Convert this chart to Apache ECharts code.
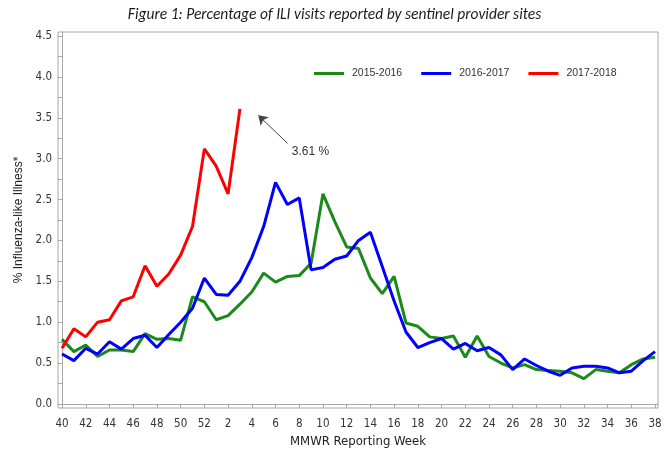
<!DOCTYPE html>
<html>
<head>
<meta charset="utf-8">
<script src="https://cdn.jsdelivr.net/npm/echarts@6/dist/echarts.min.js"></script>
<style>
  html, body { margin: 0; padding: 0; background: #fff; }
  #grafico { width: 669px; height: 454px; }
</style>
</head>
<body>
<div id="grafico"></div>
<script>
// MMWR weeks 40 .. 52, then 1 .. 38
const semanas = [40, 41, 42, 43, 44, 45, 46, 47, 48, 49, 50, 51, 52,
  1, 2, 3, 4, 5, 6, 7, 8, 9, 10, 11, 12, 13, 14, 15, 16, 17, 18, 19, 20,
  21, 22, 23, 24, 25, 26, 27, 28, 29, 30, 31, 32, 33, 34, 35, 36, 37, 38];

const temporadas = ["2015-2016", "2016-2017", "2017-2018"];

const ili2015 = [0.79, 0.64, 0.72, 0.58, 0.66, 0.66, 0.64, 0.86, 0.79, 0.80, 0.78,
  1.31, 1.25, 1.03, 1.08, 1.22, 1.37, 1.60, 1.49, 1.56, 1.57, 1.72,
  2.57, 2.23, 1.92, 1.90, 1.54, 1.35, 1.56,
  0.99, 0.95, 0.82, 0.80, 0.83, 0.57, 0.83, 0.58, 0.50, 0.44, 0.48, 0.42,
  0.41, 0.40, 0.38, 0.31, 0.42, 0.40, 0.38, 0.48, 0.55, 0.57];

const ili2016 = [0.61, 0.53, 0.68, 0.61, 0.76, 0.67, 0.80, 0.84, 0.69, 0.85, 1.00,
  1.17, 1.54, 1.34, 1.33, 1.50, 1.79, 2.17, 2.71, 2.44, 2.52, 1.64,
  1.67, 1.77, 1.81, 2.00, 2.10, 1.68, 1.26,
  0.88, 0.69, 0.75, 0.80, 0.67, 0.74, 0.65, 0.69, 0.60, 0.42, 0.55, 0.47,
  0.40, 0.35, 0.44, 0.46, 0.46, 0.44, 0.38, 0.40, 0.53, 0.64];

const ili2017 = [0.68, 0.92, 0.82, 1.00, 1.03, 1.26, 1.31, 1.69, 1.44, 1.59, 1.82,
  2.17, 3.12, 2.91, 2.57, 3.61];

const ticksX = [0, 2, 4, 6, 8, 10, 12, 14, 16, 18, 20, 22, 24, 26, 28, 30, 32,
  34, 36, 38, 40, 42, 44, 46, 48, 50];
const ticksY = [0, 0.5, 1, 1.5, 2, 2.5, 3, 3.5, 4, 4.5];
const ticksYmenores = [0.25, 0.75, 1.25, 1.75, 2.25, 2.75, 3.25, 3.75, 4.25];

const colores = ["#1b8a1b", "#0000ff", "#ff0000"];

function pares(valores) {
  return valores.map((v, i) => [i, v]);
}

const ultimo = ili2017.length - 1;
const pico = ili2017[ultimo];

const fuente = "'Liberation Sans Narrow', 'DejaVu Sans Condensed', 'Liberation Sans', sans-serif";
const gris = "#a8a8a8";

const grafico = echarts.init(document.getElementById("grafico"), null, { renderer: "canvas" });

const opciones = {
  animation: false,
  title: {
    text: "Figure 1: Percentage of ILI visits reported by sentinel provider sites",
    left: "center",
    top: 2,
    textStyle: {
      fontFamily: "Carlito, Lato, sans-serif",
      fontStyle: "italic",
      fontWeight: "normal",
      fontSize: 15.5,
      color: "#1a1a1a"
    }
  },
  legend: {
    data: temporadas.map(t => ({ name: t, icon: "rect" })),
    left: 309,
    top: 63,
    itemWidth: 30,
    itemHeight: 3,
    itemGap: 19,
    textStyle: {
      fontFamily: "'Liberation Sans', Arial, sans-serif",
      fontSize: 10.5,
      color: "#333",
      padding: [0, 0, 0, 3]
    }
  },
  grid: {
    left: 58,
    right: 11,
    top: 32,
    bottom: 46,
    show: true,
    borderColor: gris,
    borderWidth: 1
  },
  xAxis: {
    type: "value",
    min: -0.34,
    max: 50.25,
    name: "MMWR Reporting Week",
    nameLocation: "middle",
    nameGap: 26,
    nameTextStyle: { fontFamily: fuente, fontSize: 13, color: "#222" },
    axisLine: { show: true, lineStyle: { color: gris } },
    axisTick: { show: true, length: 4, lineStyle: { color: gris }, customValues: ticksX },
    axisLabel: {
      margin: 10,
      fontFamily: fuente,
      fontSize: 11.5,
      color: "#333",
      customValues: ticksX,
      formatter: v => String(semanas[Math.round(v)])
    },
    splitLine: { show: false }
  },
  yAxis: {
    type: "value",
    min: -0.05,
    max: 4.55,
    name: "% Influenza-like Illness*",
    nameLocation: "middle",
    nameGap: 33,
    nameTextStyle: { fontFamily: "'Liberation Sans', Arial, sans-serif", fontSize: 12, color: "#222" },
    axisLine: { show: true, lineStyle: { color: gris } },
    axisTick: { show: true, length: 4, lineStyle: { color: gris },
      customValues: ticksY.concat(ticksYmenores) },
    axisLabel: {
      margin: 6,
      fontFamily: fuente,
      fontSize: 11.5,
      color: "#333",
      customValues: ticksY,
      formatter: v => v.toFixed(1)
    },
    splitLine: { show: false }
  },
  series: [
    {
      name: temporadas[0],
      type: "line",
      data: pares(ili2015),
      symbol: "none",
      lineStyle: { color: colores[0], width: 3 },
      itemStyle: { color: colores[0] },
      z: 2
    },
    {
      name: temporadas[1],
      type: "line",
      data: pares(ili2016),
      symbol: "none",
      lineStyle: { color: colores[1], width: 3 },
      itemStyle: { color: colores[1] },
      z: 3
    },
    {
      name: temporadas[2],
      type: "line",
      data: pares(ili2017),
      symbol: "none",
      lineStyle: { color: colores[2], width: 3 },
      itemStyle: { color: colores[2] },
      z: 4,
      markLine: {
        silent: true,
        symbol: ["none", "arrow"],
        symbolSize: 9,
        label: { show: false },
        lineStyle: { color: "#444", width: 1, type: "solid" },
        data: [[
          { coord: [ultimo + 4.0, pico - 0.42] },
          { coord: [ultimo + 1.55, pico - 0.08] }
        ]]
      },
      markPoint: {
        silent: true,
        data: [{
          coord: [ultimo + 4.37, pico - 0.53],
          symbol: "circle",
          symbolSize: 0,
          label: {
            show: true,
            position: "right",
            distance: 0,
            formatter: pico.toFixed(2) + " %",
            fontFamily: "'Liberation Sans', Arial, sans-serif",
            fontSize: 12,
            color: "#333"
          }
        }]
      }
    }
  ]
};

grafico.setOption(opciones);
</script>
</body>
</html>
